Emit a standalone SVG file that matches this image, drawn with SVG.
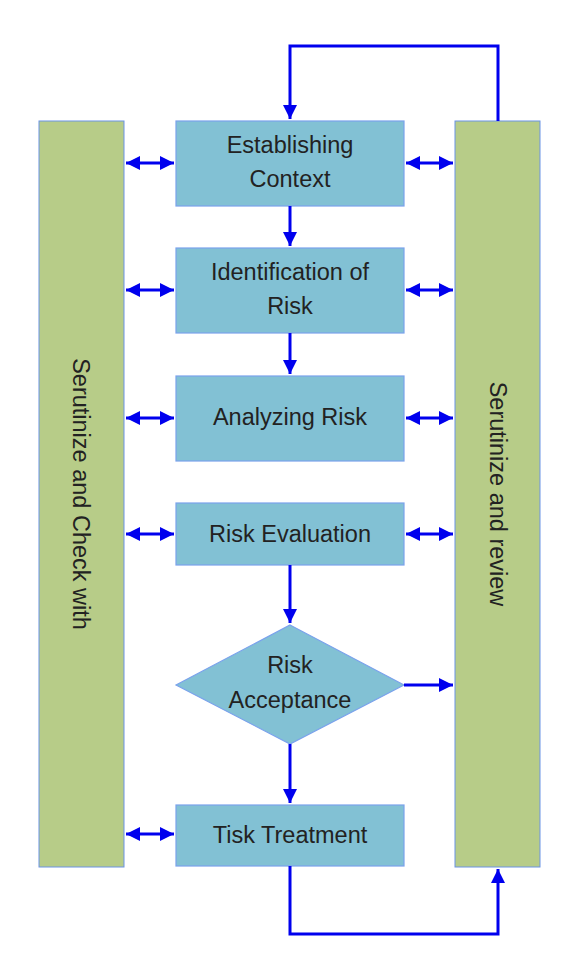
<svg xmlns="http://www.w3.org/2000/svg" width="580" height="980" viewBox="0 0 580 980">
<style>
.bar{fill:#b7cc88;stroke:#6b93e6;stroke-width:1}
.box{fill:#82c1d4;stroke:#7aa2ec;stroke-width:1.2}
.t{font-family:"Liberation Sans",Arial,sans-serif;font-size:23.5px;fill:#222;text-anchor:middle}
.c{fill:none;stroke:#0000ee;stroke-width:3}
</style>
<defs>
<marker id="ah" viewBox="0 0 10 10" refX="10" refY="5" markerWidth="4.7" markerHeight="4.7" markerUnits="strokeWidth" orient="auto-start-reverse"><path d="M0,0 L10,5 L0,10 z" fill="#0000ee"/></marker>
</defs>
<g id="left-bar"><rect class="bar" x="39" y="121" width="85" height="746"/><text class="t" transform="translate(81,494) rotate(90)" dy="8">Serutinize and Check with</text></g>
<g id="right-bar"><rect class="bar" x="455" y="121" width="85" height="746"/><text class="t" transform="translate(498,494) rotate(90)" dy="8">Serutinize and review</text></g>
<g id="establishing"><rect class="box" x="176" y="121" width="228" height="85"/><text class="t" x="290" y="153">Establishing</text><text class="t" x="290" y="187">Context</text></g>
<g id="identification"><rect class="box" x="176" y="248" width="228" height="85"/><text class="t" x="290" y="280">Identification of</text><text class="t" x="290" y="314">Risk</text></g>
<g id="analyzing"><rect class="box" x="176" y="376" width="228" height="85"/><text class="t" x="290" y="425">Analyzing Risk</text></g>
<g id="evaluation"><rect class="box" x="176" y="503" width="228" height="62"/><text class="t" x="290" y="542">Risk Evaluation</text></g>
<g id="acceptance"><polygon class="box" points="290,625 404,685 290,744 176,685"/><text class="t" x="290" y="673">Risk</text><text class="t" x="290" y="708">Acceptance</text></g>
<g id="treatment"><rect class="box" x="176" y="805" width="228" height="61"/><text class="t" x="290" y="843">Tisk Treatment</text></g>
<g id="connectors">
<path class="c" d="M498,121 V46 H290 V119" marker-end="url(#ah)"/>
<path class="c" d="M290,206 V246" marker-end="url(#ah)"/>
<path class="c" d="M290,333 V374" marker-end="url(#ah)"/>
<path class="c" d="M290,565 V623" marker-end="url(#ah)"/>
<path class="c" d="M290,744 V803" marker-end="url(#ah)"/>
<path class="c" d="M404,685 H453" marker-end="url(#ah)"/>
<path class="c" d="M290,866 V934 H498 V869" marker-end="url(#ah)"/>
<path class="c" d="M126,163 H174" marker-start="url(#ah)" marker-end="url(#ah)"/>
<path class="c" d="M126,290 H174" marker-start="url(#ah)" marker-end="url(#ah)"/>
<path class="c" d="M126,418 H174" marker-start="url(#ah)" marker-end="url(#ah)"/>
<path class="c" d="M126,534 H174" marker-start="url(#ah)" marker-end="url(#ah)"/>
<path class="c" d="M126,834 H174" marker-start="url(#ah)" marker-end="url(#ah)"/>
<path class="c" d="M406,163 H453" marker-start="url(#ah)" marker-end="url(#ah)"/>
<path class="c" d="M406,290 H453" marker-start="url(#ah)" marker-end="url(#ah)"/>
<path class="c" d="M406,418 H453" marker-start="url(#ah)" marker-end="url(#ah)"/>
<path class="c" d="M406,534 H453" marker-start="url(#ah)" marker-end="url(#ah)"/>
</g>
</svg>
